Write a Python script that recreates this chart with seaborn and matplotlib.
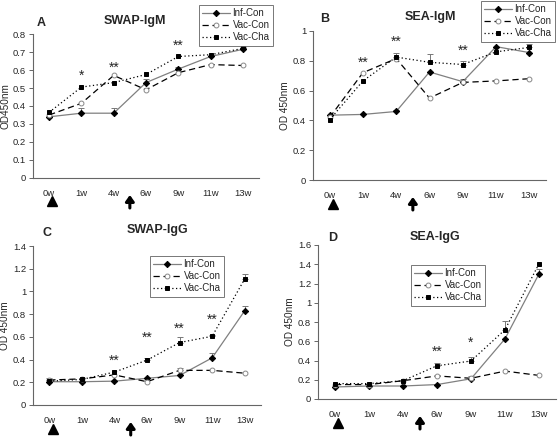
import numpy as np
import pandas as pd
import matplotlib
matplotlib.use('Agg')
import matplotlib.pyplot as plt
from matplotlib.transforms import blended_transform_factory, offset_copy
import seaborn as sns

weeks = ['0w', '1w', '4w', '6w', '9w', '11w', '13w']
groups = ['Inf-Con', 'Vac-Con', 'Vac-Cha']

# SWAP-IgM
a_inf = [0.34, 0.36, 0.36, 0.53, 0.605, 0.675, 0.715]
a_con = [0.35, 0.415, 0.57, 0.49, 0.585, 0.63, 0.625]
a_cha = [0.365, 0.505, 0.53, 0.575, 0.675, 0.685, 0.72]
a_inf_err = [0.0, 0.03, 0.03, 0.02, 0.01, 0.0, 0.01]
a_con_err = [0.0, 0.0, 0.0, 0.0, 0.0, 0.0, 0.0]
a_cha_err = [0.0, 0.0, 0.0, 0.0, 0.0, 0.0, 0.01]
a_stars = ['', '*', '**', '', '**', '', '']
a_star_y = [0, 0.57, 0.61, 0, 0.735, 0, 0]

# SEA-IgM
b_inf = [0.435, 0.44, 0.46, 0.725, 0.66, 0.895, 0.855]
b_con = [0.42, 0.72, 0.815, 0.55, 0.655, 0.665, 0.68]
b_cha = [0.405, 0.665, 0.825, 0.79, 0.775, 0.86, 0.89]
b_inf_err = [0.0, 0.0, 0.01, 0.0, 0.02, 0.0, 0.0]
b_con_err = [0.0, 0.0, 0.0, 0.0, 0.0, 0.0, 0.0]
b_cha_err = [0.0, 0.0, 0.025, 0.055, 0.025, 0.0, 0.02]
b_stars = ['', '**', '**', '', '**', '', '']
b_star_y = [0, 0.79, 0.925, 0, 0.865, 0, 0]

# SWAP-IgG
c_inf = [0.205, 0.205, 0.21, 0.235, 0.26, 0.415, 0.83]
c_con = [0.22, 0.23, 0.265, 0.205, 0.305, 0.305, 0.28]
c_cha = [0.21, 0.225, 0.29, 0.395, 0.55, 0.605, 1.11]
c_inf_err = [0.0, 0.0, 0.0, 0.0, 0.0, 0.04, 0.045]
c_con_err = [0.015, 0.0, 0.0, 0.0, 0.025, 0.0, 0.0]
c_cha_err = [0.0, 0.0, 0.0, 0.015, 0.05, 0.015, 0.04]
c_stars = ['', '', '**', '**', '**', '**', '']
c_star_y = [0, 0, 0.39, 0.59, 0.67, 0.75, 0]

# SEA-IgG
d_inf = [0.125, 0.135, 0.135, 0.15, 0.21, 0.625, 1.30]
d_con = [0.15, 0.15, 0.19, 0.24, 0.215, 0.29, 0.245]
d_cha = [0.16, 0.16, 0.19, 0.345, 0.395, 0.72, 1.405]
d_inf_err = [0.0, 0.0, 0.0, 0.0, 0.03, 0.0, 0.05]
d_con_err = [0.0, 0.0, 0.0, 0.0, 0.0, 0.0, 0.0]
d_cha_err = [0.0, 0.0, 0.0, 0.025, 0.045, 0.09, 0.0]
d_stars = ['', '', '', '**', '*', '', '']
d_star_y = [0, 0, 0, 0.49, 0.58, 0, 0]

sns.set_style('white')
plt.rcParams['font.family'] = ['Liberation Sans', 'DejaVu Sans']

W, H = 558, 438
fig = plt.figure(figsize=(W / 100, H / 100), dpi=100)

styles = {
    'Inf-Con': dict(color='#808080', linestyle='-', marker='D', mfc='black', mec='black', ms=3.2),
    'Vac-Con': dict(color='black', linestyle=(0, (5, 3)), marker='o', mfc='white', mec='#888888', ms=3.5),
    'Vac-Cha': dict(color='black', linestyle=(0, (1, 2)), marker='s', mfc='black', mec='black', ms=3.5),
}


def px_axes(l, r, b, t):
    return fig.add_axes([l / W, 1 - b / H, (r - l) / W, (b - t) / H])


def panel(box, vals, errs, stars, star_y, ymax, ystep, ylabel, letter, lpos, title, tpos, legbox):
    ax = px_axes(*box)
    x = np.arange(len(weeks))
    df = pd.DataFrame({'week': np.tile(x, 3),
                       'od': np.concatenate(vals),
                       'group': np.repeat(groups, len(weeks))})
    for g, e in zip(groups, errs):
        st = styles[g]
        sub = df[df.group == g]
        sns.lineplot(data=sub, x='week', y='od', ax=ax, color=st['color'],
                     linestyle=st['linestyle'], linewidth=0.9, marker=st['marker'],
                     markerfacecolor=st['mfc'], markeredgecolor=st['mec'],
                     markersize=st['ms'], markeredgewidth=0.7, label=g, zorder=3)
        e = np.array(e)
        m = e > 0
        ax.errorbar(x[m], sub.od.values[m], yerr=[np.zeros(m.sum()), e[m]], fmt='none',
                    ecolor='#777777', elinewidth=0.7, capsize=2.5, capthick=0.7, zorder=2)
    for i, (s, sy) in enumerate(zip(stars, star_y)):
        if s:
            ax.text(i, sy, s, ha='center', va='center', fontsize=10)
    ticks = np.round(np.arange(0, ymax + 1e-9, ystep), 2)
    ax.set_xlim(-0.5, 6.5)
    ax.set_ylim(0, ymax)
    ax.set_yticks(ticks)
    ax.set_yticklabels(['%g' % v for v in ticks], fontsize=6.8)
    ax.set_xticks(x)
    ax.set_xticklabels(weeks, fontsize=6.8)
    ax.set_xticks(np.arange(0.5, 6.6, 1), minor=True)
    ax.tick_params(axis='x', which='major', length=0, pad=8)
    ax.tick_params(axis='x', which='minor', length=3, width=0.7, direction='out', color='#666666')
    ax.tick_params(axis='y', length=3, width=0.7, direction='out', color='#666666', pad=2, left=True)
    ax.set_xlabel('')
    ax.set_ylabel(ylabel, fontsize=7.2, labelpad=2)
    for sp in ['top', 'right']:
        ax.spines[sp].set_visible(False)
    for sp in ['left', 'bottom']:
        ax.spines[sp].set_color('#666666')
        ax.spines[sp].set_linewidth(0.8)
    tr = blended_transform_factory(ax.transData, ax.transAxes)
    tri_tr = offset_copy(tr, fig=fig, x=0, y=-23.5, units='dots')
    ax.plot([0.1], [0], marker='^', color='black', ms=7.5, transform=tri_tr, clip_on=False)
    top_tr = offset_copy(tr, fig=fig, x=0, y=-17, units='dots')
    bot_tr = offset_copy(tr, fig=fig, x=0, y=-30, units='dots')
    ax.annotate('', xy=(2.5, 0), xycoords=top_tr, xytext=(2.5, 0), textcoords=bot_tr,
                arrowprops=dict(arrowstyle='-|>,head_width=0.25,head_length=0.35',
                                color='black', lw=2.2, shrinkA=0, shrinkB=0))
    fig.text(lpos[0] / W, 1 - lpos[1] / H, letter, fontsize=9, fontweight='bold', ha='center', va='center')
    fig.text(tpos[0] / W, 1 - tpos[1] / H, title, fontsize=9, fontweight='bold', ha='center', va='center')
    leg = ax.legend(loc='upper left', bbox_to_anchor=(legbox[0] / W, 1 - legbox[1] / H),
                    bbox_transform=fig.transFigure, fontsize=7, frameon=True, fancybox=False,
                    handlelength=2.8, handletextpad=0.3, labelspacing=0.2, borderpad=0.35,
                    borderaxespad=0)
    leg.get_frame().set_edgecolor('#555555')
    leg.get_frame().set_linewidth(0.7)
    leg.set_zorder(10)
    return ax


panel((33, 259, 178, 34), [a_inf, a_con, a_cha], [a_inf_err, a_con_err, a_cha_err],
      a_stars, a_star_y, 0.8, 0.1, 'OD450nm', 'A', (41, 23), 'SWAP-IgM', (135, 21), (199, 5))
panel((313, 546, 180, 31), [b_inf, b_con, b_cha], [b_inf_err, b_con_err, b_cha_err],
      b_stars, b_star_y, 1.0, 0.2, 'OD 450nm', 'B', (325, 19), 'SEA-IgM', (430, 17), (481, 1))
panel((33, 261, 405, 246), [c_inf, c_con, c_cha], [c_inf_err, c_con_err, c_cha_err],
      c_stars, c_star_y, 1.4, 0.2, 'OD 450nm', 'C', (47, 233), 'SWAP-IgG', (157, 230), (150, 256))
panel((318, 556, 399, 245), [d_inf, d_con, d_cha], [d_inf_err, d_con_err, d_cha_err],
      d_stars, d_star_y, 1.6, 0.2, 'OD 450nm', 'D', (333, 238), 'SEA-IgG', (435, 237), (411, 265))

fig.savefig('out.png', dpi=100)
